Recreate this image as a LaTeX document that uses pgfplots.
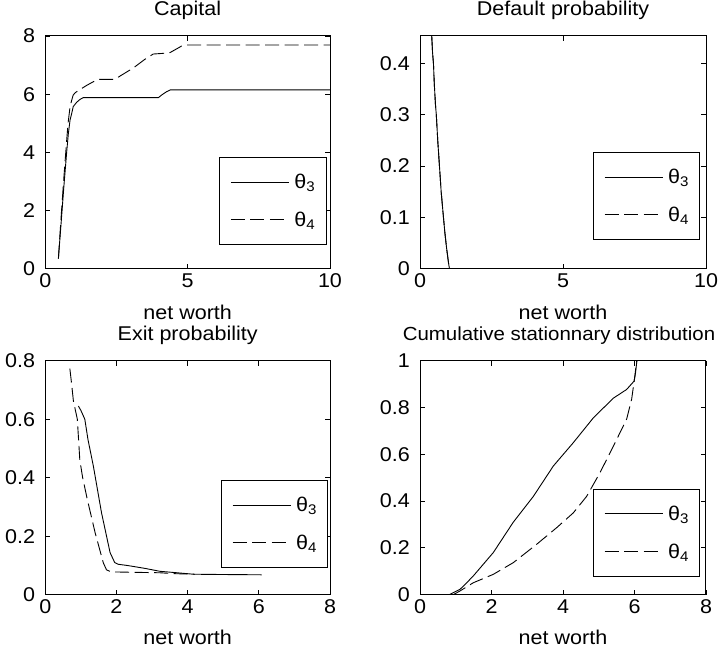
\documentclass[border=0pt]{standalone}
\usepackage{fontspec}
\setmainfont{Liberation Sans}[FakeStretch=1.08]
\usepackage{pgfplots}
\pgfplotsset{compat=1.18}
\pgfplotsset{
  mat/.style={
    scale only axis,
    anchor=south west,
    axis line style={line width=1bp},
    every tick/.style={line width=0.8bp, black},
    tick align=inside,
    major tick length=5bp,
    font=\fontsize{20}{24}\selectfont,
    /pgf/number format/assume math mode=true,
    scaled ticks=false,
    xticklabel style={inner sep=0pt, yshift=-5bp},
    yticklabel style={inner sep=0pt, xshift=-10bp},
    title style={at={(0.5,1)}, anchor=base, inner sep=0pt},
    xlabel style={at={(axis description cs:0.5,0)}, anchor=base, inner sep=0pt},
    legend image code/.code={\draw[##1] (0bp,0bp) -- (58bp,0bp);},
    legend cell align=left,
    legend style={draw=black, line width=1bp, fill=white, anchor=north west,
      inner xsep=11bp, inner ysep=16.5bp, row sep=22bp, column sep=5bp,
      nodes={inner sep=0pt}, font=\fontsize{20}{24}\selectfont},
  },
  top/.style={mat, title style={yshift=15bp}, xlabel style={yshift=-51bp}},
  bot/.style={mat, title style={yshift=14.5bp}, xlabel style={yshift=-50bp}},
  s3/.style={black, line width=0.9bp},
  s4/.style={black, line width=0.9bp, dash pattern=on 14bp off 5.5bp},
}
\begin{document}
\begin{tikzpicture}
\path[use as bounding box] (0,0) rectangle (721bp,652bp);
% Panel 1
\begin{axis}[top, at={(45.3bp,383.3bp)}, width=284.7bp, height=232.7bp,
  xmin=0, xmax=10, ymin=0, ymax=8, xtick={0,5,10}, ytick={0,2,4,6,8},
  title={Capital}, xlabel={net worth},
  legend style={at={(0.610,0.480)}}]
\addplot[s3] coordinates {(0.46,0.35) (0.55,1.5) (0.65,2.8) (0.75,4.0) (0.81,4.65) (0.87,5.11) (0.93,5.35) (0.98,5.57) (1.1,5.72) (1.22,5.82) (1.33,5.88) (2,5.88) (3,5.88) (3.97,5.88) (4.1,5.98) (4.25,6.08) (4.4,6.15) (5,6.15) (10,6.15)};
\addplot[s4] coordinates {(0.46,0.35) (0.55,1.7) (0.65,3.1) (0.75,4.4) (0.80,5.0) (0.87,5.57) (0.93,5.8) (0.98,5.97) (1.05,6.05) (1.22,6.16) (1.45,6.3) (1.69,6.43) (1.9,6.51) (2.45,6.51) (2.62,6.62) (3.09,6.9) (3.5,7.2) (3.79,7.38) (4.1,7.4) (4.38,7.43) (4.6,7.55) (4.85,7.69) (10,7.69)};
\legend{θ\textsubscript{3}, θ\textsubscript{4}}
\end{axis}
% Panel 2
\begin{axis}[top, at={(420bp,383.3bp)}, width=286bp, height=232.7bp,
  xmin=0, xmax=10, ymin=0, ymax=0.4533, xtick={0,5,10}, ytick={0,0.1,0.2,0.3,0.4},
  title={Default probability}, xlabel={net worth},
  legend style={at={(0.604,0.5015)}}]
\addplot[s3] coordinates {(0.41,0.4533) (0.44,0.42) (0.47,0.40) (0.50,0.36) (0.54,0.32) (0.57,0.30) (0.62,0.25) (0.68,0.20) (0.74,0.15) (0.82,0.10) (0.87,0.07) (0.93,0.04) (1.0,0.01) (1.03,0) (10,0)};
\addplot[s4] coordinates {(0.41,0.4533) (0.44,0.42) (0.47,0.40) (0.50,0.36) (0.54,0.32) (0.57,0.30) (0.62,0.25) (0.68,0.20) (0.74,0.15) (0.82,0.10) (0.87,0.07) (0.93,0.04) (1.0,0.01) (1.03,0) (10,0)};
\legend{θ\textsubscript{3}, θ\textsubscript{4}}
\end{axis}
% Panel 3
\begin{axis}[bot, at={(45.3bp,57.3bp)}, width=284.7bp, height=234bp,
  xmin=0, xmax=8, ymin=0, ymax=0.8, xtick={0,2,4,6,8}, ytick={0,0.2,0.4,0.6,0.8},
  title={Exit probability}, xlabel={net worth},
  legend style={at={(0.616,0.490)}}]
\addplot[s3] coordinates {(0.93,0.645) (1.0,0.63) (1.11,0.6) (1.2,0.53) (1.35,0.44) (1.58,0.28) (1.82,0.144) (1.95,0.11) (2.05,0.104) (2.3,0.1) (2.8,0.09) (3.22,0.08) (3.7,0.075) (4.16,0.07) (5,0.069) (6.08,0.068)};
\addplot[s4] coordinates {(0.69,0.773) (0.74,0.72) (0.79,0.662) (0.9,0.6) (0.97,0.46) (1.05,0.4) (1.18,0.326) (1.4,0.212) (1.63,0.109) (1.72,0.085) (1.85,0.078) (2.29,0.077) (3.22,0.075) (3.6,0.072) (4.2,0.07)};
\legend{θ\textsubscript{3}, θ\textsubscript{4}}
\end{axis}
% Panel 4
\begin{axis}[bot, at={(420bp,57.3bp)}, width=286bp, height=234bp,
  xmin=0, xmax=8, ymin=0, ymax=1, xtick={0,2,4,6,8}, ytick={0,0.2,0.4,0.6,0.8,1},
  title={Cumulative stationnary distribution}, xlabel={net worth},
  title style={font=\fontsize{19}{23}\selectfont, xshift=-4bp},
  legend style={at={(0.604,0.453)}}]
\addplot[s3] coordinates {(0.82,0) (0.95,0.01) (1.12,0.023) (1.3,0.05) (1.49,0.08) (2.05,0.18) (2.61,0.31) (3.17,0.42) (3.73,0.55) (4.29,0.65) (4.85,0.756) (5.41,0.84) (5.78,0.877) (5.99,0.913) (6.03,0.95) (6.06,0.99) (6.07,1.0)};
\addplot[s4] coordinates {(0.93,0) (1.12,0.016) (1.49,0.051) (2.05,0.087) (2.61,0.137) (3.26,0.215) (3.82,0.286) (4.29,0.35) (4.66,0.42) (5.03,0.52) (5.41,0.635) (5.78,0.75) (5.92,0.835) (6.01,0.934) (6.06,1.0)};
\legend{θ\textsubscript{3}, θ\textsubscript{4}}
\end{axis}
\end{tikzpicture}
\end{document}
